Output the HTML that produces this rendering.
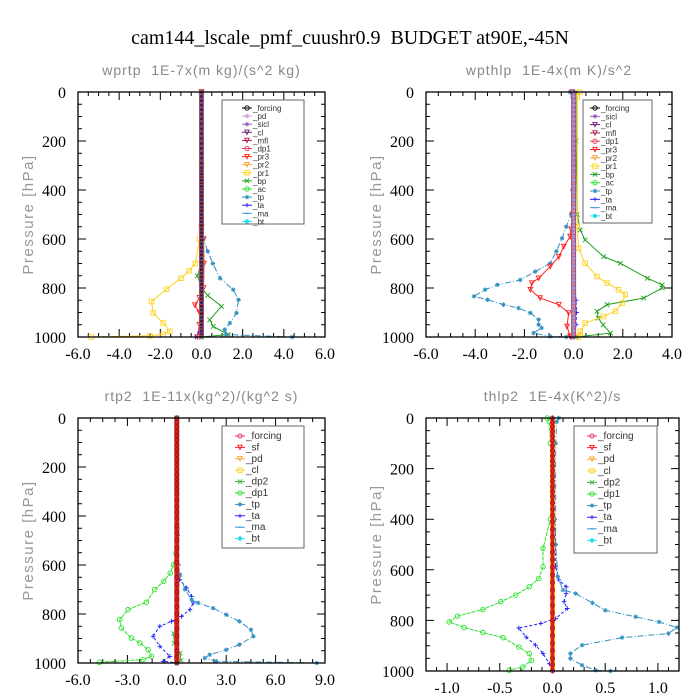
<!DOCTYPE html>
<html><head><meta charset="utf-8">
<style>
html,body{margin:0;padding:0;background:#fff;width:700px;height:700px;overflow:hidden}
svg{display:block}
text{white-space:pre}
</style></head>
<body>
<svg id="chart" width="700" height="700" viewBox="0 0 700 700" xmlns="http://www.w3.org/2000/svg" xml:space="preserve">
<text x="350" y="44" text-anchor="middle" font-family="Liberation Serif, serif" font-size="20" fill="#000">cam144_lscale_pmf_cuushr0.9  BUDGET at90E,-45N</text>
</svg>
<script>
// ---------- data ----------
const colLevels=[0,18,36,54,72,90,110,130,150,170,190,210,230,250,270,290,310,335,360,385,410,440,470,500,530,560,590,620,650,680,710,740,770,800,830,860,890,920,950,975,1000];

// panel 1 wprtp
const p1_pr1_p=[0,300,550,600,700,730,760,805,855,902,943,977,990,995,1000];
const p1_pr1_v=[0,0,0,-0.1,-0.3,-0.6,-1.0,-1.7,-2.43,-2.35,-1.86,-1.54,-1.86,-2.5,-5.35];
const p1_bp_p=[0,500,700,750,800,830,875,930,957,990,1000];
const p1_bp_v=[0,0,0,-0.2,0,0.3,0.97,0.4,0.57,1.3,0];
const p1_tp_p=[0,550,600,650,700,760,807,848,902,943,970,990,1000];
const p1_tp_v=[0,0,0.1,0.3,0.55,0.9,1.54,1.8,1.7,1.38,1.13,1.2,4.4];
const p1_pr3_p=[0,550,600,700,800,840,870,900,950,1000];
const p1_pr3_v=[0,0,0.1,0.12,0.1,-0.1,-0.32,-0.1,-0.1,-0.2];
const p1_ta_p=[0,900,980,1000];
const p1_ta_v=[0,0,-0.1,-0.3];

// panel 2 wpthlp
const p2_tp_p=[0,20,400,500,550,597,650,699,733,767,787,807,834,848,868,882,902,929,950,963,984,997,1000];
const p2_tp_v=[-0.15,-0.05,-0.05,-0.1,-0.3,-0.47,-0.7,-0.95,-1.56,-2.17,-3.1,-3.6,-4.05,-3.5,-2.85,-2.24,-1.76,-1.42,-1.42,-1.3,-1.63,-0.95,-0.3];
const p2_pr3_p=[0,500,560,590,631,672,712,760,780,807,841,868,902,957,997,1000];
const p2_pr3_v=[-0.05,-0.05,-0.1,-0.14,-0.4,-0.6,-0.95,-1.42,-1.7,-1.76,-1.36,-0.6,-0.2,-0.27,-0.14,-0.1];
const p2_bp_p=[0,200,500,563,604,672,699,760,787,800,841,868,895,923,950,984,1000];
const p2_bp_v=[0.1,0.1,0.15,0.27,0.47,1.22,1.9,3.0,3.6,3.6,2.85,1.36,0.95,1.0,1.2,1.5,0.1];
const p2_pr1_p=[0,20,550,638,699,753,780,807,827,862,895,916,943,977,990,1000];
const p2_pr1_v=[0.25,0.15,0.15,0.2,0.47,0.95,1.36,1.83,2.1,1.97,1.7,1.22,0.47,0.27,0.27,0.2];
const p2_ta_p=[0,700,850,900,950,1000];
const p2_ta_v=[0,0,0.1,0.12,0.1,0];

// panel 3 rtp2
const p3_dp1_p=[0,450,551,599,633,667,700,752,782,823,857,898,918,946,973,986,997];
const p3_dp1_v=[0,0,-0.05,-0.2,-0.4,-0.8,-1.34,-1.85,-2.96,-3.47,-3.37,-2.76,-2.25,-1.74,-1.54,-2.05,-4.7];
const p3_ta_p=[0,480,600,660,694,728,755,782,810,830,850,891,932,973,993,1000];
const p3_ta_v=[0,0.05,0.1,0.18,0.6,0.9,1.0,0.8,0.28,-0.32,-1.03,-1.44,-1.03,-0.42,-0.83,0];
const p3_tp_p=[0,600,640,700,742,755,776,803,830,864,891,925,946,966,980,993,1000];
const p3_tp_v=[0,0.05,0.2,0.5,0.9,1.3,2.2,3.0,3.8,4.5,4.65,3.8,3.0,2.0,1.7,2.4,8.5];
const p3_dp2_p=[0,850,880,920,960,990,1000];
const p3_dp2_v=[0,0,-0.2,-0.15,0.2,0.25,0];

// panel 4 thlp2
const p4_dp1_p=[0,15,100,400,515,588,634,667,700,726,757,783,806,828,848,868,905,931,958,984,997];
const p4_dp1_v=[-0.05,-0.03,-0.02,-0.02,-0.09,-0.09,-0.13,-0.22,-0.35,-0.49,-0.66,-0.9,-0.98,-0.84,-0.66,-0.47,-0.32,-0.22,-0.2,-0.28,-0.41];
const p4_ta_p=[0,400,500,588,640,667,694,726,753,793,812,830,866,898,931,971,1000];
const p4_ta_v=[0,0.02,0.03,0.03,0.06,0.13,0.13,0.11,0.14,0.03,-0.11,-0.32,-0.25,-0.16,-0.09,-0.03,0];
const p4_tp_p=[0,15,100,500,627,680,694,731,760,786,806,828,852,868,898,931,951,977,997,1000];
const p4_tp_v=[0.06,0.04,0.03,0.03,0.05,0.1,0.22,0.38,0.5,0.79,1.01,1.18,1.1,0.66,0.28,0.17,0.17,0.28,0.41,0.55];

// tick labels
const ticks1=[-6,-4,-2,0,2,4,6];
const ticks2=[-6,-4,-2,0,2,4];
const ticks3=[-6,-3,0,3,6,9];
const ticks4=[-1,-0.5,0,0.5,1];
const yTicks=[0,200,400,600,800,1000];
const legend1=['_forcing','_pd','_sicl','_cl','_mfl','_dp1','_pr3','_pr2','_pr1','_bp','_ac','_tp','_ta','_ma','_bt'];
const legend2=['_forcing','_sicl','_cl','_mfl','_dp1','_pr3','_pr2','_pr1','_bp','_ac','_tp','_ta','_ma','_bt'];
const legend3=['_forcing','_sf','_pd','_cl','_dp2','_dp1','_tp','_ta','_ma','_bt'];

// ---------- drawing ----------
const NS='http://www.w3.org/2000/svg';
const svg=document.getElementById('chart');
function mk(tag,attrs,parent){const e=document.createElementNS(NS,tag);for(const k in attrs)e.setAttribute(k,attrs[k]);(parent||svg).appendChild(e);return e;}

const STY_A={
 _forcing:{c:'#000',m:'circle'},_pd:{c:'#c8a0e0',m:'star'},_sicl:{c:'#9060c0',m:'star'},_cl:{c:'#702080',m:'tri'},
 _mfl:{c:'#b02050',m:'tri'},_dp1:{c:'#e04060',m:'circle'},_pr3:{c:'#ff2020',m:'tri'},_pr2:{c:'#ffa030',m:'tri'},
 _pr1:{c:'#ffd020',m:'square'},_bp:{c:'#20a020',m:'x'},_ac:{c:'#30e030',m:'circle'},_tp:{c:'#3090c0',m:'star',d:'6,2,1,2'},
 _ta:{c:'#2020ff',m:'plus',d:'3,2'},_ma:{c:'#40a0e0',m:'dash',d:'5,2'},_bt:{c:'#20e0f0',m:'dot'}
};
const STY_B=Object.assign({},STY_A,{
 _forcing:{c:'#e04060',m:'circle'},_sf:{c:'#ff2020',m:'tri'},_pd:{c:'#ffa030',m:'tri'},_cl:{c:'#ffd020',m:'square'},
 _dp2:{c:'#40b040',m:'x'},_dp1:{c:'#30e030',m:'circle',d:'4,1'}
});

function marker(g,type,x,y,c,r){
 r=r||2.5;
 if(type==='circle')mk('circle',{cx:x,cy:y,r:r,fill:'none',stroke:c,'stroke-width':0.9},g);
 else if(type==='dot')mk('circle',{cx:x,cy:y,r:r,fill:c},g);
 else if(type==='square')mk('rect',{x:x-r,y:y-r,width:2*r,height:2*r,fill:'none',stroke:c,'stroke-width':0.9},g);
 else if(type==='tri')mk('path',{d:`M${x-r},${y-r}L${x+r},${y-r}L${x},${y+r}Z`,fill:'none',stroke:c,'stroke-width':0.9},g);
 else if(type==='x')mk('path',{d:`M${x-r},${y-r}L${x+r},${y+r}M${x-r},${y+r}L${x+r},${y-r}`,stroke:c,'stroke-width':0.9},g);
 else if(type==='plus')mk('path',{d:`M${x-r},${y}L${x+r},${y}M${x},${y-r}L${x},${y+r}`,stroke:c,'stroke-width':0.9},g);
 else if(type==='star')mk('path',{d:`M${x-r},${y}L${x+r},${y}M${x},${y-r}L${x},${y+r}M${x-r*0.7},${y-r*0.7}L${x+r*0.7},${y+r*0.7}M${x-r*0.7},${y+r*0.7}L${x+r*0.7},${y-r*0.7}`,stroke:c,'stroke-width':0.9},g);
 else if(type==='dash')mk('path',{d:`M${x-r},${y}L${x+r},${y}`,stroke:c,'stroke-width':1.2},g);
}

function panel(cfg){
 const STY=cfg.sty;
 const g=mk('g',{});
 
 
 const {L,R,T,B,xmin,xmax}=cfg;
 const sx=v=>L+(v-xmin)/(xmax-xmin)*(R-L);
 const sy=p=>T+p/1000*(B-T);
 const t=mk('text',{x:(L+R)/2,y:T-17,'text-anchor':'middle','font-family':'Liberation Sans, sans-serif','font-size':14,fill:'#888','letter-spacing':'1'},g);
 t.textContent=cfg.title;
 
 
 const yl=mk('text',{x:0,y:0,transform:`translate(${L-45},${(T+B)/2}) rotate(-90)`,'text-anchor':'middle','font-family':'Liberation Sans, sans-serif','font-size':15,fill:'#999','letter-spacing':'1.5'},g);
 yl.textContent='Pressure [hPa]';
 
 
 let d='';
 for(let p=0;p<=1000;p+=50){const y=sy(p);const len=p%200===0?8:4;d+=`M${L},${y}h${len}M${R},${y}h${-len}`;}
 const step=cfg.minor;
 for(let v=Math.ceil(xmin/step-1e-6)*step;v<=xmax+1e-6;v+=step){
  const x=sx(v);const maj=cfg.ticks.some(tk=>Math.abs(tk-v)<1e-6);const len=maj?8:4;
  d+=`M${x},${B}v${-len}M${x},${T}v${len}`;
 }
 mk('path',{d:d,stroke:'#000','stroke-width':1,fill:'none'},g);
 yTicks.forEach(p=>{const tx=mk('text',{x:L-12,y:sy(p)+6,'text-anchor':'end','font-family':'Liberation Serif, serif','font-size':16,fill:'#000'},g);tx.textContent=p;
  
  });
 cfg.ticks.forEach(v=>{const tx=mk('text',{x:sx(v),y:B+22,'text-anchor':'middle','font-family':'Liberation Serif, serif','font-size':16,fill:'#000'},g);tx.textContent=v.toFixed(1);
  
  });
 cfg.series.forEach(s=>{
  const st=STY[s.k];
  const sg=mk('g',{},g);
  
  
  const pts=s.p.map((p,i)=>[sx(s.v[i]),sy(p)]);
  mk('polyline',{points:pts.map(q=>q.join(',')).join(' '),fill:'none',stroke:st.c,'stroke-width':1,'stroke-dasharray':st.d||'none'},sg);
  pts.forEach(q=>marker(sg,st.m,q[0],q[1],st.c,2.3));
 });
 const cg=mk('g',{},g);
 
 
 mk('line',{x1:sx(0),x2:sx(0),y1:sy(0),y2:sy(1000),stroke:cfg.colEdge,'stroke-width':5},cg);
 mk('line',{x1:sx(0),x2:sx(0),y1:sy(0),y2:sy(1000),stroke:cfg.colMid,'stroke-width':3},cg);
 colLevels.forEach(p=>marker(cg,'circle',sx(0),sy(p),cfg.colMark,2));
 const fr=mk('rect',{x:L,y:T,width:R-L,height:B-T,fill:'none',stroke:'#000','stroke-width':1.3},g);
 
 
 const lg=mk('g',{},g);
 
 
 const lb=cfg.leg;
 mk('rect',{x:lb.x,y:lb.y,width:lb.w,height:lb.h,fill:'#fff',stroke:'#666','stroke-width':1},lg);
 cfg.legend.forEach((k,i)=>{
  const y=lb.y+lb.y0+i*lb.dy;const mx=lb.x+lb.mx;
  const st=STY[k];
  const eg=mk('g',{},lg);
  
  
  mk('line',{x1:mx-5,x2:mx+5,y1:y,y2:y,stroke:st.c,'stroke-width':1},eg);
  marker(eg,st.m,mx,y,st.c,2.2);
  const tx=mk('text',{x:mx+6,y:y+3,'font-family':'Liberation Sans, sans-serif','font-size':lb.fs,fill:'#333'},eg);
  tx.textContent=k;
 });
}

panel({name:'panel-wprtp',sty:STY_A,title:'wprtp  1E-7x(m kg)/(s^2 kg)',L:78,R:325,T:92,B:337,xmin:-6,xmax:6,ticks:ticks1,minor:0.5,
 colEdge:'#c04030',colMid:'#402040',colMark:'#8060a0',
 series:[{k:'_pr1',p:p1_pr1_p,v:p1_pr1_v},{k:'_bp',p:p1_bp_p,v:p1_bp_v},{k:'_tp',p:p1_tp_p,v:p1_tp_v},{k:'_pr3',p:p1_pr3_p,v:p1_pr3_v},{k:'_ta',p:p1_ta_p,v:p1_ta_v}],
 legend:legend1,leg:{x:222,y:100,w:82,h:124,y0:8,dy:8.1,mx:25,fs:8}});
panel({name:'panel-wpthlp',sty:STY_A,title:'wpthlp  1E-4x(m K)/s^2',L:426,R:672,T:92,B:337,xmin:-6,xmax:4,ticks:ticks2,minor:0.5,
 colEdge:'#c04040',colMid:'#b090d0',colMark:'#9070b0',
 series:[{k:'_tp',p:p2_tp_p,v:p2_tp_v},{k:'_pr3',p:p2_pr3_p,v:p2_pr3_v},{k:'_bp',p:p2_bp_p,v:p2_bp_v},{k:'_pr1',p:p2_pr1_p,v:p2_pr1_v},{k:'_ta',p:p2_ta_p,v:p2_ta_v}],
 legend:legend2,leg:{x:583,y:100,w:69,h:123,y0:8,dy:8.3,mx:12,fs:8}});
panel({name:'panel-rtp2',sty:STY_B,title:'rtp2  1E-11x(kg^2)/(kg^2 s)',L:78,R:325,T:418,B:663,xmin:-6,xmax:9,ticks:ticks3,minor:0.75,
 colEdge:'#e03020',colMid:'#d02020',colMark:'#a01010',
 series:[{k:'_dp1',p:p3_dp1_p,v:p3_dp1_v},{k:'_ta',p:p3_ta_p,v:p3_ta_v},{k:'_tp',p:p3_tp_p,v:p3_tp_v},{k:'_dp2',p:p3_dp2_p,v:p3_dp2_v}],
 legend:legend3,leg:{x:222,y:426,w:82,h:122,y0:10,dy:11.4,mx:18,fs:10}});
panel({name:'panel-thlp2',sty:STY_B,title:'thlp2  1E-4x(K^2)/s',L:426,R:679,T:418,B:671,xmin:-1.2,xmax:1.2,ticks:ticks4,minor:0.1,
 colEdge:'#f0a020',colMid:'#e02020',colMark:'#c01010',
 series:[{k:'_dp1',p:p4_dp1_p,v:p4_dp1_v},{k:'_ta',p:p4_ta_p,v:p4_ta_v},{k:'_tp',p:p4_tp_p,v:p4_tp_v}],
 legend:legend3,leg:{x:574,y:426,w:83,h:127,y0:10,dy:11.6,mx:18,fs:10}});
</script>
</body></html>
